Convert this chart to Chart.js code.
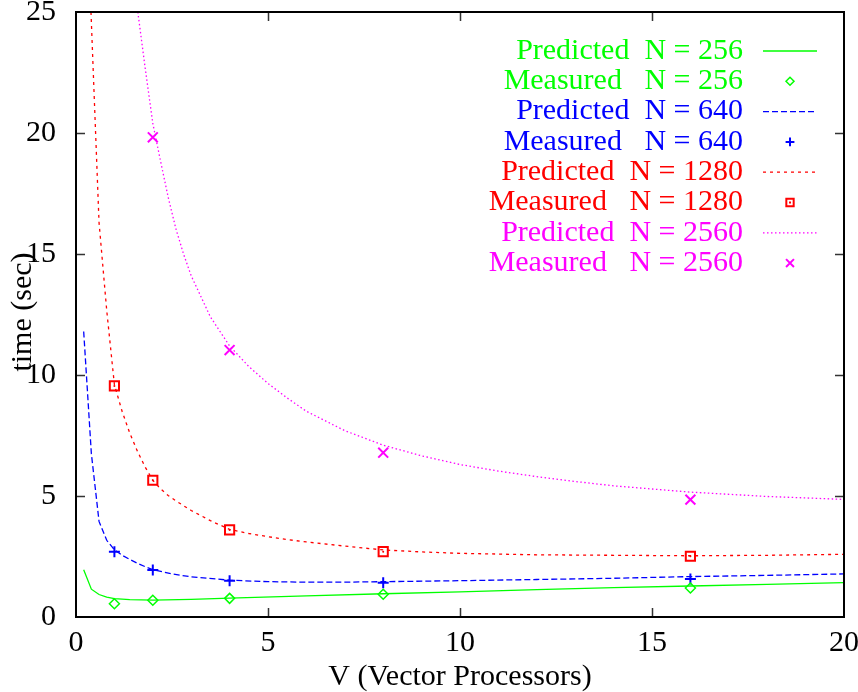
<!DOCTYPE html>
<html>
<head>
<meta charset="utf-8">
<title>time vs V</title>
<script src="https://cdn.jsdelivr.net/npm/chart.js@4.4.0/dist/chart.umd.min.js"></script>
<style>
  html, body { margin: 0; padding: 0; background: #fff; }
  #wrap { width: 858px; height: 692px; position: relative; }
</style>
</head>
<body>
<div id="wrap"><canvas id="chart"></canvas></div>
<script>
// Values

const xTicks = [0, 5, 10, 15, 20];
const yTicks = [0, 5, 10, 15, 20, 25];

// measured runs
const measuredV = [1, 2, 4, 8, 16];
const measured256 = [0.55, 0.69, 0.77, 0.94, 1.20];
const measured640 = [2.70, 1.94, 1.50, 1.42, 1.57];
const measured1280 = [9.55, 5.65, 3.60, 2.70, 2.51];
const measured2560V = [2, 4, 8, 16];
const measured2560 = [19.82, 11.03, 6.79, 4.85];

// predicted curves (straight pieces, like the original sampling)
const pred256V = [0.2, 0.4, 0.6, 0.8, 1.0, 1.4, 2, 3, 4, 6, 8, 10, 12, 14, 16, 18, 20];
const pred256 = [1.95, 1.15, 0.93, 0.82, 0.76, 0.72, 0.70, 0.73, 0.78, 0.87, 0.96, 1.04, 1.13, 1.21, 1.28, 1.35, 1.42];

const pred640V = [0.2, 0.4, 0.6, 0.8, 1.0, 1.2, 1.4, 1.6, 1.8, 2, 2.5, 3, 4, 5, 6, 7, 8, 10, 12, 14, 16, 18, 20];
const pred640 = [11.8, 6.75, 3.95, 3.17, 2.78, 2.55, 2.38, 2.22, 2.08, 1.96, 1.78, 1.66, 1.52, 1.46, 1.44, 1.44, 1.46, 1.50, 1.55, 1.60, 1.67, 1.72, 1.78];

const pred1280V = [0.39, 0.6, 0.8, 1.0, 1.2, 1.4, 1.6, 1.8, 2.0, 2.2, 2.4, 2.6, 3, 3.5, 4, 4.5, 5, 5.5, 6, 7, 8, 9, 10, 11, 12, 14, 16, 18, 20];
const pred1280 = [25, 16.3, 12.67, 9.6, 8.5, 7.6, 6.85, 6.2, 5.65, 5.3, 5.02, 4.8, 4.4, 3.98, 3.62, 3.45, 3.32, 3.2, 3.1, 2.93, 2.77, 2.69, 2.63, 2.6, 2.57, 2.55, 2.53, 2.55, 2.59];

const pred2560V = [1.61, 1.8, 2.0, 2.2, 2.4, 2.6, 2.8, 3.0, 3.5, 4.0, 4.5, 5, 5.5, 6, 7, 8, 9, 10, 11, 12, 13, 14, 16, 18, 20];
const pred2560 = [25, 22.7, 20.4, 18.85, 17.35, 16.05, 15.0, 14.1, 12.4, 11.2, 10.35, 9.65, 9.05, 8.5, 7.7, 7.1, 6.66, 6.3, 6.03, 5.8, 5.6, 5.42, 5.16, 4.98, 4.86];

const FONT = '"Liberation Serif", "Times New Roman", serif';
const GREEN = 'rgb(0,255,0)';
const BLUE = 'rgb(0,0,255)';
const RED = 'rgb(255,0,0)';
const MAGENTA = 'rgb(255,0,255)';

function pairs(xs, ys) {
    return xs.map((x, i) => ({ x: x, y: ys[i] }));
}

function curve(label, xs, ys, color, dash) {
    return {
        label: label,
        data: pairs(xs, ys),
        showLine: true,
        borderColor: color,
        borderWidth: 1.3,
        borderDash: dash,
        pointRadius: 0,
        tension: 0,
        fill: false
    };
}

function marks(label, xs, ys, color, style, radius, width) {
    return {
        label: label,
        data: pairs(xs, ys),
        showLine: false,
        borderColor: color,
        backgroundColor: 'rgba(0,0,0,0)',
        pointStyle: style,
        pointRadius: radius,
        pointBorderWidth: width,
        pointBackgroundColor: 'rgba(0,0,0,0)'
    };
}

const datasets = [
    curve('Predicted  N = 256', pred256V, pred256, GREEN, []),
    marks('Measured   N = 256', measuredV, measured256, GREEN, 'rectRot', 5, 1.5),
    curve('Predicted  N = 640', pred640V, pred640, BLUE, [6, 3]),
    marks('Measured   N = 640', measuredV, measured640, BLUE, 'cross', 5.5, 2),
    curve('Predicted  N = 1280', pred1280V, pred1280, RED, [3, 4]),
    marks('Measured   N = 1280', measuredV, measured1280, RED, 'rect', 6.5, 2),
    curve('Predicted  N = 2560', pred2560V, pred2560, MAGENTA, [1.5, 2.5]),
    marks('Measured   N = 2560', measured2560V, measured2560, MAGENTA, 'crossRot', 7, 2)
];

// little dot in the middle of each box, as the original point type has
const boxDots = {
    label: '',
    inKey: false,
    data: pairs(measuredV, measured1280),
    showLine: false,
    pointStyle: 'circle',
    pointRadius: 1,
    pointBorderWidth: 0,
    pointBackgroundColor: RED
};

// frame, inward ticks, axis titles and the gnuplot-style key
const framePlugin = {
    id: 'frame',
    afterDatasetsDraw(chart) {
        const ctx = chart.ctx;
        const a = chart.chartArea;
        const xs = chart.scales.x;
        const ys = chart.scales.y;
        ctx.save();

        // tick marks pointing inwards on all four sides
        ctx.strokeStyle = '#333';
        ctx.lineWidth = 1.5;
        ctx.setLineDash([]);
        ctx.beginPath();
        yTicks.slice(1, -1).forEach(v => {
            const p = Math.round(ys.getPixelForValue(v)) + 0.5;
            ctx.moveTo(a.left, p); ctx.lineTo(a.left + 9, p);
            ctx.moveTo(a.right, p); ctx.lineTo(a.right - 9, p);
        });
        xTicks.slice(1, -1).forEach(v => {
            const p = Math.round(xs.getPixelForValue(v)) + 0.5;
            ctx.moveTo(p, a.bottom); ctx.lineTo(p, a.bottom - 9);
            ctx.moveTo(p, a.top); ctx.lineTo(p, a.top + 9);
        });
        ctx.stroke();

        ctx.strokeStyle = '#000';
        ctx.lineWidth = 2;
        ctx.strokeRect(a.left, a.top, a.right - a.left, a.bottom - a.top);

        // axis titles
        ctx.fillStyle = '#000';
        ctx.font = '30px ' + FONT;
        ctx.textAlign = 'center';
        ctx.textBaseline = 'alphabetic';
        ctx.fillText('V (Vector Processors)', (a.left + a.right) / 2, 685);
        ctx.save();
        ctx.translate(31, 312);
        ctx.rotate(-Math.PI / 2);
        ctx.fillText('time (sec)', 0, 0);
        ctx.restore();

        // key
        const textRight = 743;
        const sampleL = 763, sampleR = 817;
        const rowY = 51, rowStep = 30.3;
        ctx.textAlign = 'right';
        ctx.textBaseline = 'middle';
        chart.data.datasets.filter(ds => ds.inKey !== false).forEach((ds, i) => {
            const y = rowY + i * rowStep;
            const mid = (sampleL + sampleR) / 2;
            ctx.fillStyle = ds.borderColor;
            ctx.fillText(ds.label, textRight, y);
            if (ds.showLine) {
                ctx.strokeStyle = ds.borderColor;
                ctx.lineWidth = ds.borderWidth;
                ctx.setLineDash(ds.borderDash);
                ctx.beginPath();
                ctx.moveTo(sampleL, y);
                ctx.lineTo(sampleR, y);
                ctx.stroke();
                ctx.setLineDash([]);
            } else {
                ctx.strokeStyle = ds.borderColor;
                ctx.fillStyle = 'rgba(0,0,0,0)';
                ctx.lineWidth = ds.pointBorderWidth;
                Chart.helpers.drawPoint(ctx, {
                    pointStyle: ds.pointStyle,
                    radius: ds.pointRadius * 0.8,
                    borderWidth: ds.pointBorderWidth,
                    rotation: 0
                }, mid, y);
                if (ds.pointStyle === 'rect') {
                    ctx.fillStyle = ds.borderColor;
                    ctx.fillRect(mid - 1, y - 1, 2, 2);
                }
            }
        });
        ctx.restore();
    }
};

const tickFont = { family: FONT, size: 30 };

new Chart(document.getElementById('chart'), {
    type: 'scatter',
    data: { datasets: datasets.concat([boxDots]) },
    options: {
        responsive: true,
        maintainAspectRatio: false,
        animation: false,
        events: [],
        layout: { padding: { top: 12, right: 14, left: 0, bottom: 0 } },
        plugins: {
            legend: { display: false },
            tooltip: { enabled: false }
        },
        scales: {
            x: {
                type: 'linear',
                min: 0,
                max: 20,
                grid: { display: false, drawTicks: false },
                border: { display: false },
                afterBuildTicks: s => { s.ticks = xTicks.map(v => ({ value: v })); },
                afterFit: s => { s.height = 75; s.paddingLeft = 0; s.paddingRight = 0; },
                ticks: {
                    color: '#000',
                    font: tickFont,
                    padding: 8,
                    autoSkip: false,
                    maxRotation: 0
                }
            },
            y: {
                type: 'linear',
                min: 0,
                max: 25,
                grid: { display: false, drawTicks: false },
                border: { display: false },
                afterBuildTicks: s => { s.ticks = yTicks.map(v => ({ value: v })); },
                afterFit: s => { s.width = 76; s.paddingTop = 0; s.paddingBottom = 0; },
                ticks: {
                    color: '#000',
                    font: tickFont,
                    padding: 20,
                    autoSkip: false
                }
            }
        }
    },
    plugins: [framePlugin]
});
</script>
</body>
</html>
